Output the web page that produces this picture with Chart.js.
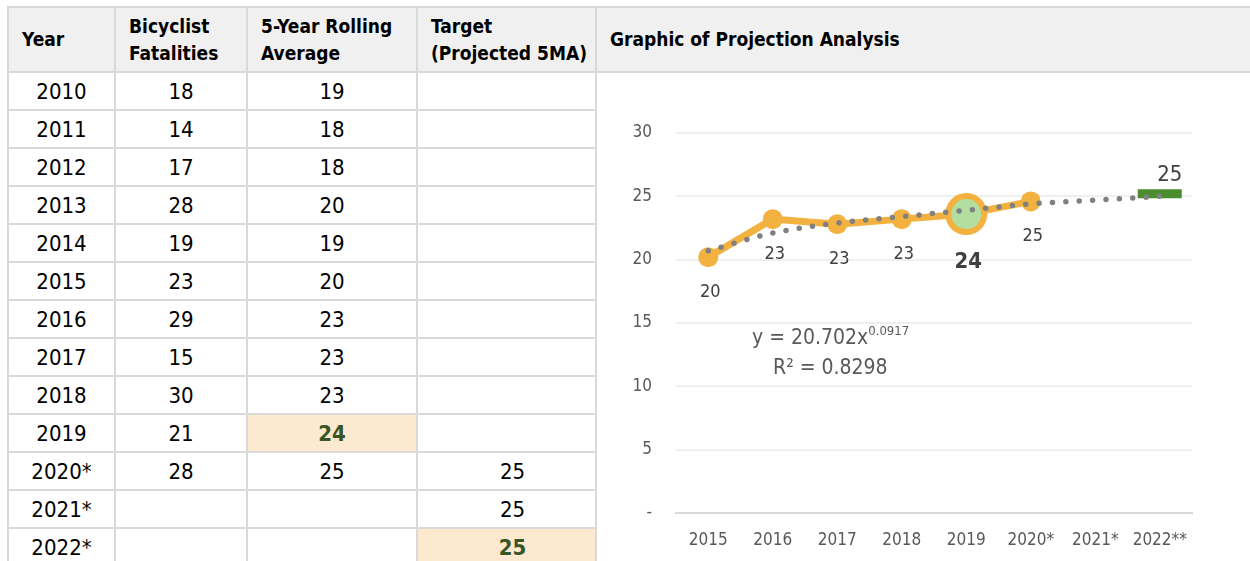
<!DOCTYPE html>
<html>
<head>
<meta charset="utf-8">
<script src="https://cdn.jsdelivr.net/npm/chart.js@4"></script>
<style>
  html, body { margin: 0; padding: 0; width: 1250px; height: 561px; overflow: hidden; background: #fff; }
  body { position: relative; font-family: "Liberation Sans Narrow", "Arial Narrow", "DejaVu Sans Condensed", sans-serif; color: #000; }
  table { position: absolute; left: 7px; top: 6px; border-collapse: collapse; table-layout: fixed; width: 1262px; }
  th, td { border: 2px solid #d9d9d9; padding: 0; }
  th { background: #f0f0f0; font-weight: bold; font-size: 19px; line-height: 27px; text-align: left; padding-left: 13px; white-space: nowrap; }
  tr.head { height: 65px; }
  tr.row { height: 38px; }
  td { font-size: 22px; text-align: center; }
  td.tgt { padding-left: 12px; }
  td.hl { background: #fce9d0; color: #375623; font-weight: bold; }
  td.chartcell { border-right: none; border-bottom: none; }
  #wrap { position: absolute; left: 600px; top: 74px; width: 650px; height: 487px; }
  #eq { position: absolute; left: 752px; top: 322px; font-size: 21px; color: #595959; line-height: 30px; }
  #eq sup { font-size: 13px; vertical-align: 9px; line-height: 0; }
  #eq .r2 { padding-left: 21px; }
</style>
</head>
<body>
<table id="tbl">
  <colgroup>
    <col style="width:107px"><col style="width:132px"><col style="width:170px"><col style="width:179px"><col style="width:674px">
  </colgroup>
  <tr class="head">
    <th>Year</th>
    <th>Bicyclist<br>Fatalities</th>
    <th>5-Year Rolling<br>Average</th>
    <th>Target<br>(Projected 5MA)</th>
    <th>Graphic of Projection Analysis</th>
  </tr>
</table>
<div id="wrap"><canvas id="chart" width="650" height="487"></canvas></div>
<div id="eq">y = 20.702x<sup>0.0917</sup><br><span class="r2">R² = 0.8298</span></div>

<script>
// table data
const tableYears = ['2010', '2011', '2012', '2013', '2014', '2015', '2016', '2017', '2018', '2019', '2020*', '2021*', '2022*'];
const fatalities = [18, 14, 17, 28, 19, 23, 29, 15, 30, 21, 28, null, null];
const rollingAvg = [19, 18, 18, 20, 19, 20, 23, 23, 23, 24, 25, null, null];
const targetProj = [null, null, null, null, null, null, null, null, null, null, 25, 25, 25];

// chart data
const chartYears = ['2015', '2016', '2017', '2018', '2019', '2020*', '2021*', '2022**'];
const rolling5MA = [20.2, 23.2, 22.8, 23.2, 23.6, 24.6, null, null];
const trendFit = [20.7, 22.1, 22.9, 23.4, 23.9, 24.4, 24.7, 25.0];
const targetPoint = [null, null, null, null, null, null, null, 25.2];

// build the table
const tbl = document.getElementById('tbl');
tableYears.forEach((yr, i) => {
  const tr = document.createElement('tr');
  tr.className = 'row';
  const cells = [yr, fatalities[i], rollingAvg[i], targetProj[i]];
  cells.forEach((v, c) => {
    const td = document.createElement('td');
    td.textContent = v == null ? '' : v;
    let cls = c === 3 ? 'tgt' : '';
    if ((c === 2 && yr === '2019') || (c === 3 && yr === '2022*')) cls += ' hl';
    td.className = cls;
    tr.appendChild(td);
  });
  if (i === 0) {
    const td = document.createElement('td');
    td.rowSpan = tableYears.length;
    td.className = 'chartcell';
    tr.appendChild(td);
  }
  tbl.appendChild(tr);
});

// draws value labels next to points
const valueLabels = {
  id: 'valueLabels',
  afterDatasetsDraw(chart) {
    const ctx = chart.ctx;
    chart.data.datasets.forEach((ds, i) => {
      if (!ds.labelStyle) return;
      const meta = chart.getDatasetMeta(i);
      meta.data.forEach((pt, j) => {
        const v = ds.data[j];
        if (v == null) return;
        const st = ds.labelStyle(j);
        ctx.save();
        ctx.font = st.font;
        ctx.fillStyle = st.color;
        ctx.textAlign = 'center';
        ctx.textBaseline = 'middle';
        ctx.fillText(String(Math.round(v)), pt.x + st.dx, pt.y + st.dy);
        ctx.restore();
      });
    });
  }
};

const fontName = '"Liberation Sans Narrow", "Arial Narrow", "DejaVu Sans Condensed", sans-serif';
const orange = '#f3b13f';
const bigIdx = 4;

const chartConfiguration = {
  type: 'line',
  data: {
    labels: chartYears,
    datasets: [
      {
        label: 'Trend',
        data: trendFit,
        borderColor: '#808080',
        borderWidth: 5.5,
        borderDash: [0, 13.4],
        borderCapStyle: 'round',
        cubicInterpolationMode: 'monotone',
        pointRadius: 0,
        order: 0
      },
      {
        label: '5-Year Rolling Average',
        data: rolling5MA,
        borderColor: orange,
        borderWidth: 7,
        pointRadius: rolling5MA.map((v, i) => i === bigIdx ? 18 : 10),
        pointBorderWidth: rolling5MA.map((v, i) => i === bigIdx ? 6 : 0),
        pointBorderColor: orange,
        pointBackgroundColor: rolling5MA.map((v, i) => i === bigIdx ? '#b2dfa0' : orange),
        order: 1,
        labelStyle: (i) => i === bigIdx
          ? { font: 'bold 22px ' + fontName, color: '#404040', dx: 2, dy: 48 }
          : { font: '18px ' + fontName, color: '#404040', dx: 2, dy: 35 }
      },
      {
        label: 'Target',
        data: targetPoint,
        showLine: false,
        pointStyle: 'line',
        pointRadius: 22,
        pointBorderWidth: 9,
        pointBorderColor: '#4a8c2e',
        borderColor: '#4a8c2e',
        order: 2,
        labelStyle: () => ({ font: '22px ' + fontName, color: '#404040', dx: 10, dy: -19 })
      }
    ]
  },
  options: {
    responsive: false,
    animation: false,
    layout: { padding: { top: 59, right: 58, left: 0, bottom: 0 } },
    plugins: { legend: { display: false }, tooltip: { enabled: false } },
    scales: {
      x: {
        offset: true,
        grid: { display: false },
        border: { display: true, color: '#d9d9d9', width: 2 },
        ticks: { color: '#595959', font: { family: fontName, size: 17 }, padding: 9, maxRotation: 0 },
        afterFit: (s) => { s.height = 48; }
      },
      y: {
        min: 0,
        max: 30,
        ticks: {
          stepSize: 5,
          color: '#595959',
          font: { family: fontName, size: 17 },
          padding: 24,
          callback: (v) => v === 0 ? '-' : v
        },
        grid: { color: '#efefef', lineWidth: 2, drawTicks: false },
        border: { display: false },
        afterFit: (s) => { s.width = 76; }
      }
    }
  },
  plugins: [valueLabels]
};

const myChart = new Chart(document.getElementById('chart'), chartConfiguration);
</script>
</body>
</html>
